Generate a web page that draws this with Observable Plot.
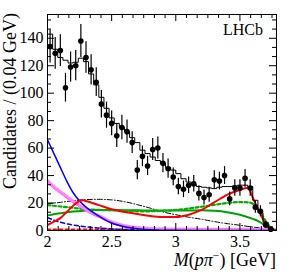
<!DOCTYPE html>
<html><head><meta charset="utf-8">
<script src="https://cdn.jsdelivr.net/npm/d3@7"></script>
<script src="https://cdn.jsdelivr.net/npm/@observablehq/plot@0.6"></script>
<style>body{margin:0;background:#fff} svg{display:block}</style>
</head><body><div id="chart"></div>
<script>
// ---- data ----
const binCenters = [2.02,2.06,2.10,2.14,2.18,2.22,2.26,2.30,2.34,2.38,2.42,2.46,2.50,2.54,2.58,2.62,2.66,2.70,2.74,2.78,2.82,2.86,2.90,2.94,2.98,3.02,3.06,3.10,3.14,3.18,3.22,3.26,3.30,3.34,3.38,3.42,3.46,3.50,3.54,3.58,3.62,3.66,3.70,3.74];
const counts = [134,129,131,104,119,120,138,126,117,108,92,84,78,69,75,72,64,44,54,47,59,60,49,45,39,32,30,33,34,27,24,26,37,36,40,23,31,31,38,31,17,14,4,1];
const errors = [12,11.5,11.5,10.5,11,11,12,11.5,11,10.5,10,9.5,9,8.5,9,8.5,8,7,7.5,7,8,8,7,7,6.5,6,6,6,6,5.5,5.5,5.5,6.5,6.5,6.5,5,6,6,6.5,6,4.5,4,2.5,1.5];
const fitEdges = [2.00,2.04,2.08,2.12,2.16,2.20,2.24,2.28,2.32,2.36,2.40,2.44,2.48,2.52,2.56,2.60,2.64,2.68,2.72,2.76,2.80,2.84,2.88,2.92,2.96,3.00,3.04,3.08,3.12,3.16,3.20,3.24,3.28,3.32,3.36,3.40,3.44,3.48,3.52,3.56,3.60,3.64,3.68,3.72,3.76,3.785];
const fitVals = [143,132,126,124,122,122.5,125.5,123,114,106,97,89,82,78,75,72,67.6,64,58.5,56,53.5,51,48.6,46,44,41.4,37.7,35.3,33.4,32,31.5,31,30.5,31.5,32,32,32.5,33,33,32,22,13,6,1.5,0.3,0.3];

const blueX = [2.0,2.05,2.1,2.15,2.2,2.25,2.3,2.35,2.4,2.5,2.6,2.7,2.8,3.0,3.4,3.785];
const blueY = [66,56,46,36,27.5,21.5,17,13.5,10.5,5.5,2.8,1.3,0.5,0.1,0.05,0];
const magX = [2.0,2.05,2.1,2.15,2.2,2.25,2.3,2.35,2.4,2.5,2.6,2.7,2.8,3.0,3.5,3.785];
const magY = [35.5,31,27.5,24,20.5,17.5,14.5,12,10,5.5,2.8,1.4,0.7,0.3,0.1,0];
const blueDashX = [2.0,2.05,2.1,2.2,2.3,2.4,2.5,2.6,2.8,3.0,3.785];
const blueDashY = [9.5,7.5,6,4,2.7,1.8,1.1,0.6,0.2,0.1,0];
const redDashX = [2.0,2.5,3.0,3.5,3.7,3.785];
const redDashY = [0.7,0.7,0.7,0.7,0.4,0];
const redX = [2.0,2.05,2.1,2.15,2.2,2.25,2.28,2.3,2.4,2.5,2.6,2.7,2.8,2.9,3.0,3.1,3.2,3.3,3.4,3.5,3.555,3.57,3.6,3.65,3.7,3.75,3.77];
const redY = [4,6.5,9,13.5,18,21.5,22,21.5,18.5,15.5,13.5,12,10.5,9.8,9.8,11.5,15,20.5,26,29.5,31,30.5,24,14,5,0.5,0];
const greenX = [2.0,2.1,2.2,2.3,2.4,2.5,2.6,2.7,2.8,2.9,3.0,3.1,3.2,3.3,3.4,3.5,3.6,3.65,3.7,3.75,3.78];
const greenY = [11,12.5,13.8,14.5,15,15,14.8,14.7,14.6,14.5,14.5,14.6,14.7,14.3,13.3,11.5,8.5,6.5,3.5,1,0];
const greenDashX = [2.0,2.1,2.2,2.3,2.4,2.5,2.6,2.7,2.8,2.9,3.0,3.1,3.2,3.3,3.4,3.5,3.58,3.62,3.66,3.7,3.74,3.77];
const greenDashY = [18.5,17.5,16.5,15.5,15,14.7,14.3,14,14,14.3,15,16,17.3,18.7,20,20.7,20.3,18,13,7,2,0];
const dashDotX = [2.0,2.1,2.2,2.3,2.4,2.5,2.6,2.7,2.8,2.9,3.0,3.1,3.2,3.3,3.4,3.5,3.6,3.7,3.78];
const dashDotY = [19.5,20.5,21.7,22.5,22.7,22.3,21,18.8,16.3,13.5,11.5,9.7,8.2,6.5,5,3.8,2.5,1.3,0];

const xDomain = [2, 3.785];
const yDomain = [0, 157.3];
const xMajor = [2, 2.5, 3, 3.5];
const yMajor = [0, 20, 40, 60, 80, 100, 120, 140];

// ---- layout ----
const W = 291, H = 276, mL = 47, mR = 15, mT = 14, mB = 46;
const perPxX = (xDomain[1] - xDomain[0]) / (W - mL - mR);
const perPxY = (yDomain[1] - yDomain[0]) / (H - mT - mB);
const majLen = 7, minLen = 4;
const xMinor = d3.range(2, 3.785, 0.5 / 6).filter(v => !xMajor.some(m => Math.abs(m - v) < 1e-6));
const yMinor = d3.range(0, 157, 20 / 3).filter(v => !yMajor.some(m => Math.abs(m - v) < 1e-6));

const line = (xs, ys, o) => Plot.line(xs, {x: xs, y: ys, curve: "monotone-x", clip: true, ...o});
const fitY = fitEdges.map((e, i) => fitVals[i]);

const plot = Plot.plot({
  width: W, height: H,
  marginLeft: mL, marginRight: mR, marginTop: mT, marginBottom: mB,
  x: {domain: xDomain},
  y: {domain: yDomain},
  style: {fontFamily: "'Liberation Serif', 'Times New Roman', serif", fontSize: "16px", color: "black", background: "white"},
  marks: [
    // components
    line(redDashX, redDashY, {stroke: "#ff0000", strokeWidth: 2, strokeDasharray: "3,3"}),
    line(dashDotX, dashDotY, {stroke: "black", strokeWidth: 1, strokeDasharray: "5,2,1,2"}),
    line(greenX, greenY, {stroke: "#00a000", strokeWidth: 2}),
    line(greenDashX, greenDashY, {stroke: "#00b000", strokeWidth: 2.2, strokeDasharray: "3,2.5"}),
    line(blueDashX, blueDashY, {stroke: "#0000ff", strokeWidth: 1.6, strokeDasharray: "4,3"}),
    line(magX, magY, {stroke: "#ff00ff", strokeWidth: 1.6}),
    line(magX, magY, {stroke: "#ff7fff", strokeWidth: 3.2, strokeDasharray: "2,2", dy: -1}),
    line(blueX, blueY, {stroke: "#0000ff", strokeWidth: 1.5}),
    line(redX, redY, {stroke: "#ff0000", strokeWidth: 2}),
    // total fit (step histogram)
    Plot.line(fitEdges, {x: fitEdges, y: fitY, curve: "step-after", stroke: "black", strokeWidth: 1, clip: true}),
    // data
    Plot.ruleX(binCenters, {x: binCenters, y1: counts.map((c, i) => Math.max(0, c - errors[i])), y2: counts.map((c, i) => c + errors[i]), stroke: "black", strokeWidth: 1.2}),
    Plot.dot(binCenters, {x: binCenters, y: counts, r: 2.8, fill: "black"}),
    // inward ticks
    Plot.ruleX(xMajor, {x: d => d, y1: yDomain[0], y2: yDomain[0] + majLen * perPxY, stroke: "black"}),
    Plot.ruleX(xMinor, {x: d => d, y1: yDomain[0], y2: yDomain[0] + minLen * perPxY, stroke: "black"}),
    Plot.ruleX(xMajor, {x: d => d, y1: yDomain[1], y2: yDomain[1] - majLen * perPxY, stroke: "black"}),
    Plot.ruleX(xMinor, {x: d => d, y1: yDomain[1], y2: yDomain[1] - minLen * perPxY, stroke: "black"}),
    Plot.ruleY(yMajor, {y: d => d, x1: xDomain[0], x2: xDomain[0] + majLen * perPxX, stroke: "black"}),
    Plot.ruleY(yMinor, {y: d => d, x1: xDomain[0], x2: xDomain[0] + minLen * perPxX, stroke: "black"}),
    Plot.ruleY(yMajor, {y: d => d, x1: xDomain[1], x2: xDomain[1] - majLen * perPxX, stroke: "black"}),
    Plot.ruleY(yMinor, {y: d => d, x1: xDomain[1], x2: xDomain[1] - minLen * perPxX, stroke: "black"}),
    Plot.frame({stroke: "black", strokeWidth: 1}),
    Plot.axisX({ticks: xMajor, tickSize: 0, tickPadding: 5, tickFormat: d => String(d), label: null, fontSize: 16}),
    Plot.axisY({ticks: yMajor, tickSize: 0, tickPadding: 4, tickFormat: d => String(d), label: null, fontSize: 16})
  ]
});

const svg = d3.select(plot);
const serif = "'Liberation Serif', 'Times New Roman', serif";
svg.append("text")
  .attr("transform", "translate(16,13) rotate(-90)")
  .attr("text-anchor", "end")
  .attr("font-family", serif).attr("font-size", 18).attr("fill", "black")
  .text("Candidates / (0.04 GeV)");
const xl = svg.append("text")
  .attr("x", 276).attr("y", 266)
  .attr("text-anchor", "end")
  .attr("font-family", serif).attr("font-size", 18).attr("fill", "black");
xl.append("tspan").attr("font-style", "italic").text("M");
xl.append("tspan").text("(");
xl.append("tspan").attr("font-style", "italic").text("pπ");
xl.append("tspan").attr("dy", -7).attr("font-size", 12).text("−");
xl.append("tspan").attr("dy", 7).text(") [GeV]");
svg.append("text")
  .attr("x", 263).attr("y", 35)
  .attr("text-anchor", "end")
  .attr("font-family", serif).attr("font-size", 16).attr("fill", "black")
  .text("LHCb");

document.getElementById("chart").appendChild(plot);
</script>
</body></html>
